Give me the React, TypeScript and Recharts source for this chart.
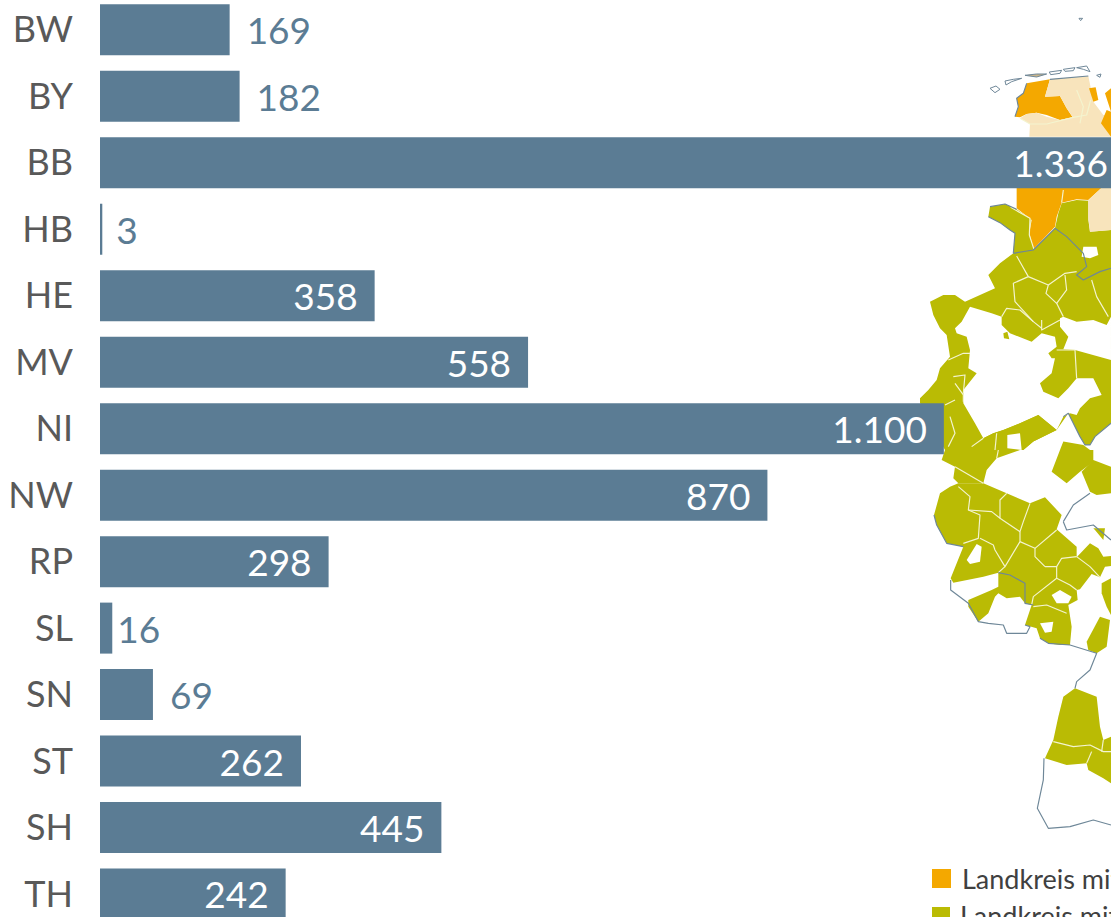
import { Bar, BarChart, LabelList, XAxis, YAxis } from 'recharts'

const states = ['BW', 'BY', 'BB', 'HB', 'HE', 'MV', 'NI', 'NW', 'RP', 'SL', 'SN', 'ST', 'SH', 'TH']
const counts = [169, 182, 1336, 3, 358, 558, 1100, 870, 298, 16, 69, 262, 445, 242]
const legendLabels = ['Landkreis mit', 'Landkreis mit']

const rows = states.map((state, i) => ({ state, count: counts[i] }))

const BAR = '#5B7C94'
const GREEN = '#BABB04'
const ORANGE = '#F4A800'
const CREAM = '#F8E4BC'
const BORDER = '#6E8798'
const INNER = '#F4F4CF'
const FONT = 'Lato, sans-serif'

const fmt = (v: number) => String(v).replace(/\B(?=(\d{3})+$)/g, '.')

function ValueLabel(props: any) {
  const { x, y, width, height, value } = props
  const end = x + width
  const inside = value > 200
  // the short bars do not all keep the same distance in the original
  const gap = value === 16 ? 5 : value === 3 ? 14 : 17
  return (
    <text
      x={inside ? end - 17 : end + gap}
      y={y + height / 2 + 1.5}
      dy="0.35em"
      textAnchor={inside ? 'end' : 'start'}
      fill={inside ? '#fff' : BAR}
      fontSize={37}
      fontFamily={FONT}
    >
      {fmt(value)}
    </text>
  )
}

// map backdrop, traced by hand: upper half
function MapNorth() {
  const fills: [string, string][] = [
    [GREEN, '210,620 255,612 290,628 332,658 328,705 342,748 405,685 415,640 425,610 470,600 505,602 505,660 510,695 573,690 573,1270 525,1310 510,1335 495,1335 480,1310 445,1240 410,1290 340,1325 310,1350 75,1350 0,1209 0,1195 25,1170 50,1140 60,1105 90,1070 80,1005 60,985 40,945 30,905 70,885 105,885 135,905 180,885 225,865 205,825 240,790 280,760 285,700 270,690 240,668 205,650'],
    ['#fff', '105,985 125,965 150,920 215,940 245,950 245,975 270,1000 335,1025 365,1000 405,1010 410,1040 385,1060 395,1075 405,1075 395,1120 360,1150 370,1175 415,1195 445,1165 470,1135 520,1135 545,1185 510,1195 480,1225 470,1245 450,1240 430,1250 410,1290 355,1245 300,1270 250,1290 220,1300 190,1315 165,1270 130,1210 130,1170 170,1120 145,1105 150,1050 140,1010 110,1000'],
    ['#fff', '420,955 430,950 470,965 520,960 560,975 573,950 573,1080 465,1050 430,1048 445,1010 420,980'],
    ['#fff', '490,740 530,740 535,765 510,775 485,770'],
    [GREEN, '250,1000 262,995 268,1018 252,1015'],
    [GREEN, '190,1315 220,1300 250,1290 300,1270 355,1245 410,1290 340,1325 310,1350 160,1350'],
    ['#fff', '262,1305 300,1300 305,1350 262,1345'],
    [GREEN, '430,1325 490,1335 510,1350 420,1350'],
    [ORANGE, '320,250 390,238 375,290 420,288 440,325 458,352 420,360 380,345 350,338 320,342 300,352 285,350 295,320 290,295 310,280'],
    [CREAM, '390,238 505,228 512,262 520,305 550,345 568,345 573,410 328,410 330,372 300,355 320,342 350,338 380,350 420,360 458,352 440,325 420,288 375,290'],
    [ORANGE, '507,265 527,262 535,300 520,305'],
    [ORANGE, '555,280 573,265 573,410 543,370 560,330 573,335'],
    [ORANGE, '290,563 545,563 505,600 470,598 425,608 410,650 405,680 340,748 328,700 335,660 290,625'],
    [CREAM, '545,563 573,563 573,690 510,695 505,650 505,600'],
  ]
  const islands = [
    '210,265 228,258 240,268 225,278',
    '255,243 280,238 305,235 275,245 258,255',
    '315,226 350,222 380,222 350,231',
    '388,216 425,211 420,220 392,224',
    '430,208 465,203 460,212 435,214',
    '470,203 500,198 510,215 490,208',
    '530,226 543,222 540,232',
    '477,55 488,55 482,62',
  ]
  const inner = [
    '290,768 325,830 280,850 285,905 340,965 365,985',
    '325,830 385,855 435,820 470,815',
    '385,855 378,880 410,910 440,870 435,825',
    '410,910 430,950',
    '245,950 260,925 300,930 340,965',
    '365,960 365,990 420,960',
    '515,840 530,890 565,950',
    '410,1050 465,1050 470,1135',
    '85,1080 130,1060 150,1060',
    '100,1130 135,1125 130,1180',
    '105,1150 130,1185 130,1205',
    '75,1215 105,1200',
    '90,1250 105,1300 85,1340',
    '230,1300 225,1350',
    '155,1340 190,1315',
    '272,622 330,655 328,705 342,748',
    '430,570 425,608',
    '300,355 330,372 380,372 460,352 500,345 512,300',
    '470,270 490,320 480,370',
  ]
  const outline = [
    '280,760 340,750 405,685 440,710 490,760 500,800 470,825 490,840 540,815 573,805',
    '210,620 255,612 290,628',
    '205,650 240,668 270,690 285,700 280,760',
    '430,1250 445,1240 480,1310 495,1335 510,1335 525,1310 573,1270',
    '285,350 295,320 290,295 310,280 320,250',
    '390,238 505,228',
  ]
  return (
    <g transform="translate(920,0) scale(0.3333)" strokeLinejoin="round">
      {fills.map(([fill, pts], i) => (
        <polygon key={i} points={pts} fill={fill} />
      ))}
      {islands.map((pts, i) => (
        <polygon key={i} points={pts} fill={i === 2 ? '#C9B48A' : '#fff'} stroke={BORDER} strokeWidth={3} />
      ))}
      {inner.map((pts, i) => (
        <polyline key={i} points={pts} fill="none" stroke={INNER} strokeWidth={3.5} />
      ))}
      {outline.map((pts, i) => (
        <polyline key={i} points={pts} fill="none" stroke={BORDER} strokeWidth={3.5} />
      ))}
    </g>
  )
}

// map backdrop, traced by hand: lower half
function MapSouth() {
  const fills: [string, string][] = [
    [GREEN, '75,0 65,30 105,50 100,85 115,100 190,100 200,60 230,25 300,0'],
    [GREEN, '420,0 395,65 440,100 480,65 520,35 520,0'],
    [GREEN, '485,65 520,30 573,50 573,130 530,135 510,125'],
    [GREEN, '115,100 190,100 260,130 330,160 375,142 425,195 410,238 470,290 470,322 510,280 535,295 550,320 573,318 573,348 555,350 540,382 515,372 480,418 470,420 473,450 445,465 455,530 450,585 420,585 385,580 360,565 350,535 315,525 335,465 315,460 300,440 260,445 235,430 225,440 205,490 175,515 145,470 145,450 215,420 235,410 235,368 190,380 100,398 92,385 130,290 80,280 50,225 42,195 60,130 90,110'],
    ['#fff', '140,330 170,282 185,290 180,335 150,342'],
    ['#fff', '395,435 420,420 455,440 445,460 410,460'],
    ['#fff', '360,520 400,515 395,545 375,548'],
    [GREEN, '500,575 540,500 570,510 560,590 530,610 505,600'],
    [GREEN, '545,400 573,385 573,495 560,470 545,430'],
    [GREEN, '520,235 555,235 550,270 525,240'],
    [GREEN, '465,715 530,740 540,830 550,870 573,860 573,1000 550,985 505,960 500,940 440,945 375,925 400,870 415,800 430,740'],
  ]
  const inner = [
    '115,110 150,140 145,180 180,195 175,265 130,280',
    '145,180 215,185 240,205 240,150 260,130',
    '240,205 300,245 310,215 330,160',
    '300,245 300,275 255,350 225,300 220,285 180,265',
    '300,275 345,295 345,320 375,350',
    '345,295 410,240',
    '255,350 235,368',
    '375,350 410,350 425,325 470,320',
    '470,320 510,350 540,382',
    '410,350 410,385 340,440 335,465',
    '410,385 450,405 470,420',
    '340,470 380,465 440,490',
    '400,875 460,890 510,885 550,905 573,905',
    '550,870 545,905',
    '515,905 500,940',
    '105,50 190,100',
    '230,25 235,0',
  ]
  const outline = [
    '235,368 270,375 315,400 315,460 340,465',
    '92,390 92,420 145,460 175,515 205,520 250,525 260,550 320,550 330,530 315,525',
    '42,195 50,225 80,280 130,290',
    '360,565 385,580 450,585 530,610 510,660 470,695 465,715',
    '430,215 460,165 510,130',
    '430,215 440,240 520,225 573,270',
    '372,925 370,990 352,1075 385,1135 450,1130 520,1110 573,1125',
  ]
  return (
    <g transform="translate(920,450) scale(0.3333)" strokeLinejoin="round">
      {fills.map(([fill, pts], i) => (
        <polygon key={i} points={pts} fill={fill} />
      ))}
      {inner.map((pts, i) => (
        <polyline key={i} points={pts} fill="none" stroke={INNER} strokeWidth={3.5} />
      ))}
      {outline.map((pts, i) => (
        <polyline key={i} points={pts} fill="none" stroke={BORDER} strokeWidth={3.5} />
      ))}
    </g>
  )
}

export default function App() {
  return (
    <div style={{ position: 'absolute', left: 0, top: 0, width: 1111, height: 917, overflow: 'hidden', background: '#fff' }}>
      <svg width={1111} height={917} style={{ position: 'absolute', left: 0, top: 0 }}>
        <g style={{ filter: 'blur(0.5px)' }}>
          <MapNorth />
          <MapSouth />
        </g>
        <rect x={932} y={869} width={19} height={19} fill={ORANGE} />
        <rect x={932} y={907} width={18} height={10} fill={GREEN} />
        <text x={962} y={889} fontSize={27} fontFamily={FONT} fill="#404040">{legendLabels[0]}</text>
        <text x={960} y={926} fontSize={27} fontFamily={FONT} fill="#404040">{legendLabels[1]}</text>
      </svg>
      <div style={{ position: 'absolute', left: 0, top: -20 }}>
        <BarChart
          width={1174}
          height={947}
          data={rows}
          layout="vertical"
          margin={{ top: 16.3, right: 0, bottom: 0, left: 0 }}
        >
          <XAxis type="number" domain={[0, 1400]} hide />
          <YAxis
            type="category"
            dataKey="state"
            width={100}
            axisLine={false}
            tickLine={false}
            tickSize={0}
            tickMargin={27}
            interval={0}
            tick={{ fill: '#595959', fontSize: 36, fontFamily: FONT }}
          />
          <Bar dataKey="count" fill={BAR} barSize={51} isAnimationActive={false}>
            <LabelList dataKey="count" content={ValueLabel} />
          </Bar>
        </BarChart>
      </div>
    </div>
  )
}
